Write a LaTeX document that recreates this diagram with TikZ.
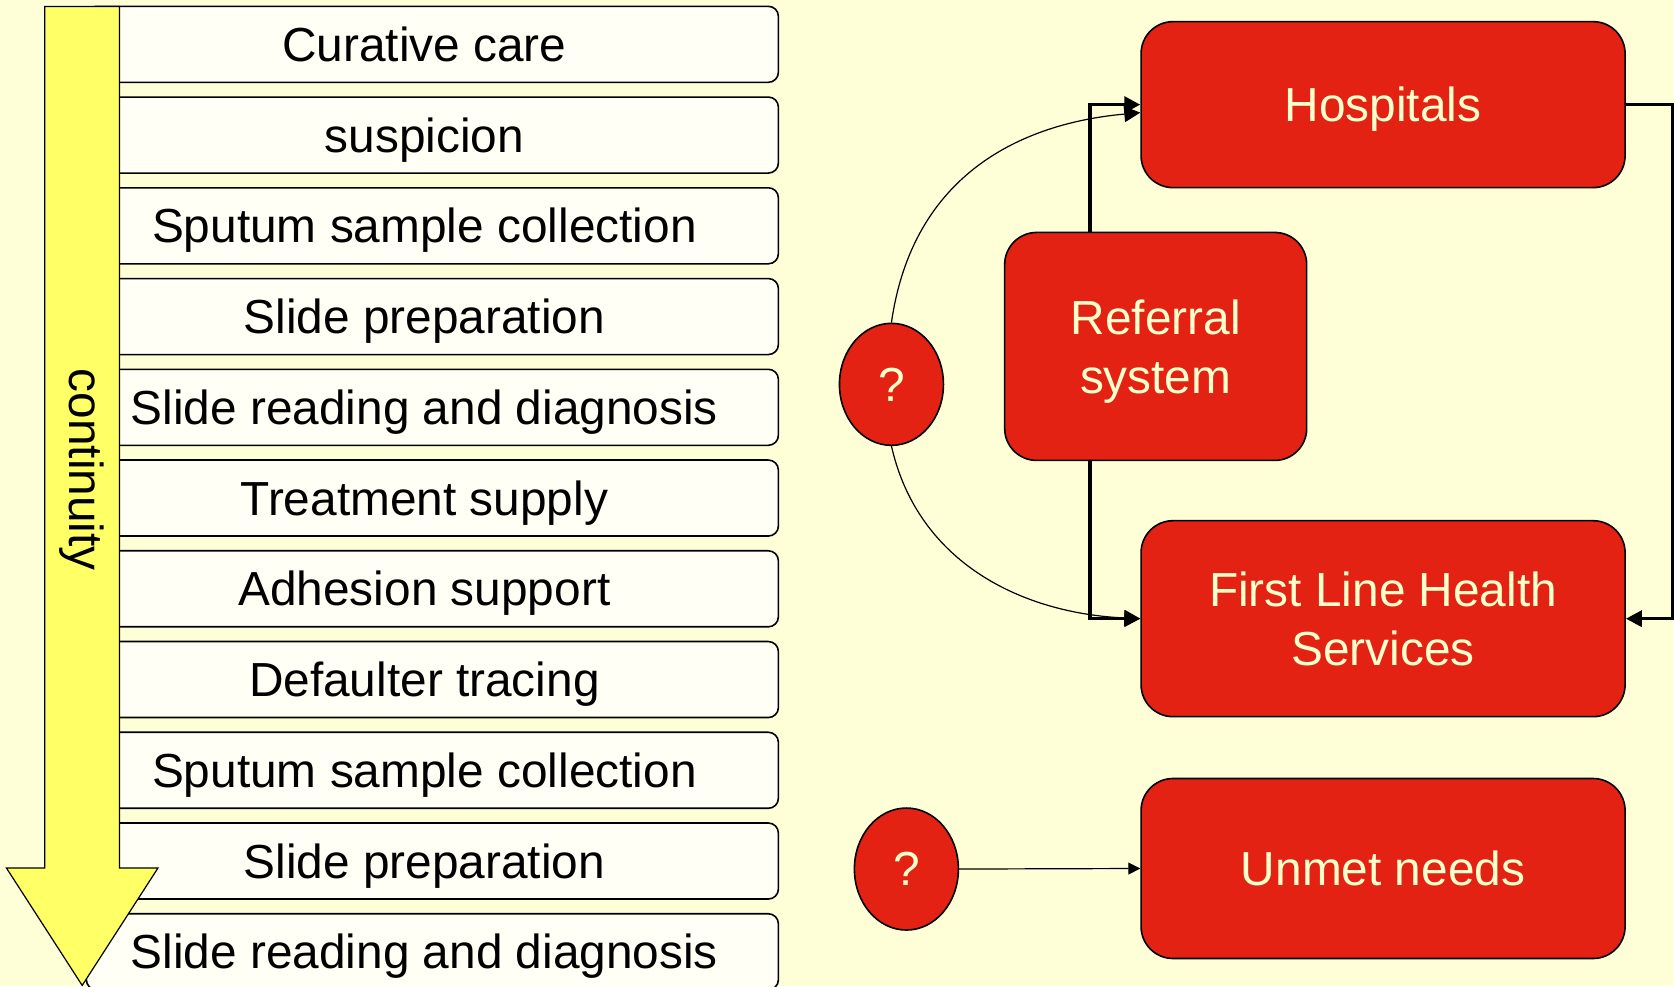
\documentclass[tikz,border=0pt]{standalone}
\usepackage{fontspec}
\setmainfont{Liberation Sans}
\usetikzlibrary{shapes.geometric,calc,arrows.meta}

\definecolor{bgyellow}{HTML}{FFFFD7}
\definecolor{boxcream}{HTML}{FFFFF5}
\definecolor{arrowyellow}{HTML}{FFFF66}
\definecolor{servred}{HTML}{E32214}
\definecolor{servtext}{HTML}{FFFFCC}

\tikzset{
  oneline/.style={text height=17pt, text depth=0pt},
  stepbox/.style={draw, line width=0.8pt, fill=boxcream, rounded corners=5pt,
    inner sep=0pt, minimum width=346pt, minimum height=38pt, oneline},
  servbox/.style={draw, line width=0.8pt, fill=servred, text=servtext,
    rounded corners=16pt, inner sep=0pt, align=center, minimum width=242pt,
    text depth=0pt},
  qmark/.style={draw, ellipse, line width=0.8pt, fill=servred, text=servtext,
    inner sep=0pt, minimum width=52pt, minimum height=61pt},
  link/.style={-{Triangle[length=8pt,width=8pt]}, line width=1.8pt},
  thinlink/.style={-{Triangle[length=8pt,width=8pt]}, line width=0.6pt},
}

\begin{document}
\begin{tikzpicture}[x=0.5338pt, y=-0.5338pt, font=\fontsize{23.9}{29.4}\selectfont]
    \fill[bgyellow] (0,0) rectangle (1568,924);
    \useasboundingbox (0,0) rectangle (1568,924);
    % care steps
    \foreach \txt [count=\i] in {Curative care, suspicion, Sputum sample collection,
        Slide preparation, Slide reading and diagnosis, Treatment supply,
        Adhesion support, Defaulter tracing, Sputum sample collection,
        Slide preparation, Slide reading and diagnosis}
      \node[stepbox] (s\i) at (405, {41.5+85*(\i-1)}) {\txt\hspace*{8pt}};
    % continuity arrow
    \draw[fill=arrowyellow, line width=0.6pt] (42,6) -- (112,6) -- (112,813) -- (148,813)
        -- (77,923) -- (6,813) -- (42,813) -- cycle;
    \node[rotate=-90] (cont) at (77,440) {continuity};
    % services
    \node[servbox, oneline, minimum height=83pt] (hosp) at (1295.5,98) {Hospitals};
    \node[servbox, minimum width=151pt, minimum height=114pt] (ref) at (1082.5,324.5) {Referral\\system};
    \node[servbox, minimum height=98pt] (flhs) at (1295.5,579.5) {First Line Health\\Services};
    \node[servbox, oneline, minimum height=90pt] (unmet) at (1295.5,813.5) {Unmet needs};
    \node[qmark] (q1) at (835,360) {?};
    \node[qmark] (q2) at (849,814) {?};
    % referral loop
    \draw[link] ($(ref.north -| hosp.west)+(-47,0)$) |- (hosp.west);
    \draw[link] ($(ref.south -| flhs.west)+(-47,0)$) |- (flhs.west);
    \draw[link] (hosp.east) -- ++(44,0) |- (flhs.east);
    % unknown paths
    \draw[thinlink] (q1.north) .. controls +(20,-140) and +(-110,10) .. ([yshift=-4pt]hosp.west);
    \draw[thinlink] (q1.south) .. controls +(25,110) and +(-110,-5) .. (flhs.west);
    \draw[thinlink, -{Triangle[length=6pt,width=6pt]}] (q2.east) -- (unmet.west);
\end{tikzpicture}
\end{document}
